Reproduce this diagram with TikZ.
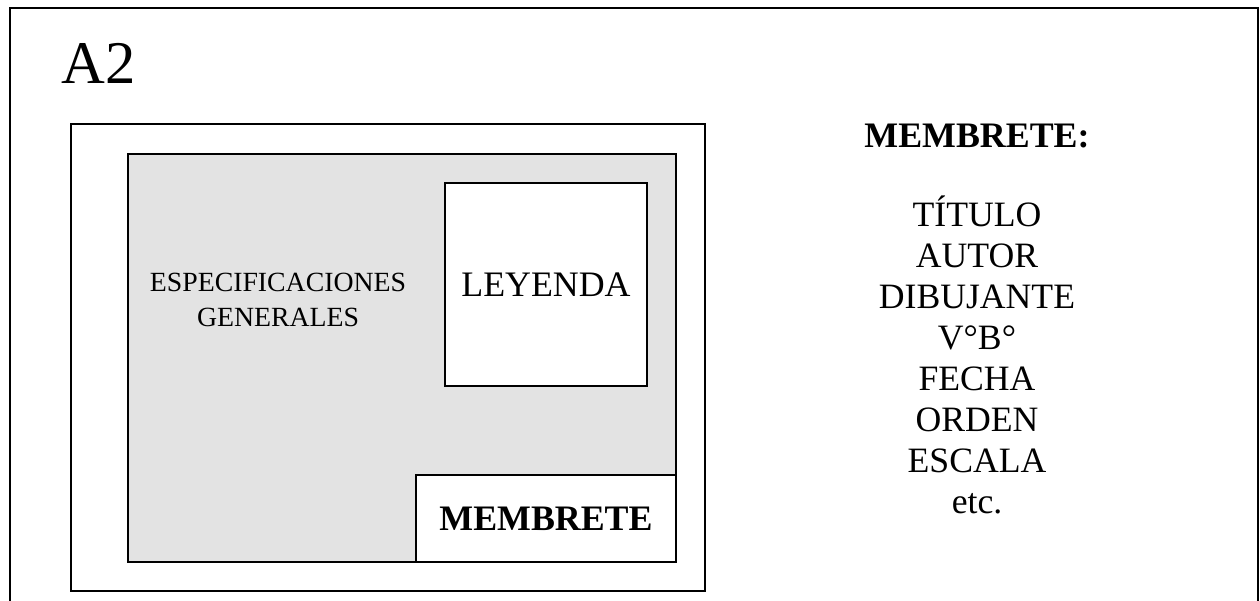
\documentclass[tikz,border=0pt]{standalone}
\usepackage{fontspec}
\setmainfont{Liberation Serif}
\usepackage{xcolor}
\usetikzlibrary{positioning}

\definecolor{fondo}{RGB}{227,227,227}

\begin{document}
\begin{tikzpicture}[
    line width=1.1pt,
    hoja/.style={draw, fill=white, inner sep=0pt},
    zona/.style={draw, fill=fondo, inner sep=0pt},
    rotulo/.style={font=\fontsize{20.4}{23.4}\selectfont\bfseries},
    lista/.style={align=center, font=\fontsize{20.3}{23.4}\selectfont}
  ]
    \useasboundingbox (0,0) rectangle (25.2,12.02);

    % lamina
    \coordinate (sheetSW) at (0.2,0);
    \coordinate (sheetNE) at (25.16,11.86);
    \draw (sheetSW) |- (sheetNE) -- (sheetNE |- sheetSW);
    \node[font=\fontsize{34.5}{40}\selectfont] (formato) at (1.98,10.76) {A2};

    % margen y zona de dibujo
    \node[hoja, minimum width=12.68cm, minimum height=9.34cm] (margen) at (7.76,4.87) {};
    \node[zona, minimum width=10.96cm, minimum height=8.16cm] (dibujo) at (8.04,4.86) {};
    \node[align=center, font=\fontsize{15.8}{20.4}\selectfont] (especif) at (5.56,6.02) {ESPECIFICACIONES\\GENERALES};
    \node[hoja, minimum width=4.04cm, minimum height=4.06cm, font=\fontsize{20.4}{24}\selectfont] (leyenda) at (10.92,6.33) {LEYENDA};
    \node[hoja, rotulo, minimum width=5.2cm, minimum height=1.74cm] (membrete) at (10.92,1.65) {MEMBRETE};

    % contenido del membrete
    \node[rotulo] (titulo) at (19.54,9.3) {MEMBRETE:};
    \node[lista] (datos) at (19.54,4.92) {TÍTULO\\AUTOR\\DIBUJANTE\\V°B°\\FECHA\\ORDEN\\ESCALA\\etc.};
  \end{tikzpicture}
\end{document}
